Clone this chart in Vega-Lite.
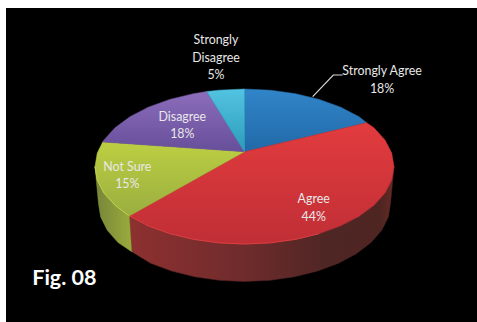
{
  "$schema": "https://vega.github.io/schema/vega-lite/v6.json",
  "width": 471,
  "height": 314,
  "padding": {"left": 6, "top": 8, "right": 0, "bottom": 0},
  "autosize": "none",
  "background": "#ffffff",
  "view": {"fill": "#000000", "stroke": null},
  "projection": {"type": "identity", "reflectY": true, "scale": 1.495, "translate": [238.5, 158.5]},
  "datasets": {
    "slices": [
      {"answer": "Strongly Agree", "share": 18, "labelLon": 92, "labelLat": 63.9,
       "outline": {"type": "Polygon", "coordinates": [[[0,9.9],[0,51.84],[17.4,51.05],[34.2,48.71],[50,44.89],[64.3,39.71],[76.6,33.32],[81.7,29.28],[0,9.9]]]}},
      {"answer": "Agree", "share": 44, "labelLon": 46.3, "labelLat": -22,
       "outline": {"type": "Polygon", "coordinates": [[[0,9.9],[81.7,29.28],[86.6,25.92],[94,17.73],[98.5,9],[100,0],[98.5,-9],[94,-17.73],[86.6,-25.92],[76.6,-33.32],[64.3,-39.71],[50,-44.89],[34.2,-48.71],[17.4,-51.05],[0,-51.84],[-17.4,-51.05],[-34.2,-48.71],[-50,-44.89],[-64.3,-39.71],[-77.05,-33.05],[0,9.9]]]}},
      {"answer": "Not Sure", "share": 15, "labelLon": -78.4, "labelLat": -0.13,
       "outline": {"type": "Polygon", "coordinates": [[[0,9.9],[-77.05,-33.05],[-86.6,-25.92],[-94,-17.73],[-98.5,-9],[-100,0],[-98.5,9],[-94.85,16.4],[0,9.9]]]}},
      {"answer": "Disagree", "share": 18, "labelLon": -41.6, "labelLat": 33.3,
       "outline": {"type": "Polygon", "coordinates": [[[0,9.9],[-94.85,16.4],[-94,17.73],[-86.6,25.92],[-76.6,33.32],[-64.3,39.71],[-50,44.89],[-34.2,48.71],[-25.3,50.15],[0,9.9]]]}},
      {"answer": "Strongly Disagree", "share": 5, "labelLon": -19.1, "labelLat": 84.6,
       "outline": {"type": "Polygon", "coordinates": [[[0,9.9],[-25.3,50.15],[-17.4,51.05],[0,51.84],[0,9.9]]]}}
    ],
    "sides": [
      {"answer": "Agree",
       "wall": {"type": "Polygon", "coordinates": [[[-77.05,-33.05],[-64.3,-39.71],[-50,-44.89],[-34.2,-48.71],[-17.4,-51.05],[0,-51.84],[17.4,-51.05],[34.2,-48.71],[50,-44.89],[64.3,-39.71],[76.6,-33.32],[86.6,-25.92],[94,-17.73],[98.5,-9],[100,0],[97.66,-24.75],[96.2,-33.81],[91.8,-42.59],[84.6,-50.84],[74.8,-58.28],[62.8,-64.71],[48.8,-69.93],[33.4,-73.77],[17,-76.13],[0,-76.92],[-17,-76.13],[-33.4,-73.77],[-48.8,-69.93],[-62.8,-64.71],[-75.45,-57],[-77.05,-33.05]]]},
       "rim": {"type": "LineString", "coordinates": [[-77.05,-33.05],[-64.3,-39.71],[-50,-44.89],[-34.2,-48.71],[-17.4,-51.05],[0,-51.84],[17.4,-51.05],[34.2,-48.71],[50,-44.89]]}},
      {"answer": "Not Sure",
       "wall": {"type": "Polygon", "coordinates": [[[-100,0],[-98.5,-9],[-94,-17.73],[-86.6,-25.92],[-77.05,-33.05],[-75.45,-57],[-84.6,-50.84],[-91.8,-42.59],[-96.2,-33.81],[-97.66,-24.75],[-100,0]]]},
       "rim": {"type": "LineString", "coordinates": [[-100,0],[-98.5,-9],[-94,-17.73],[-86.6,-25.92],[-77.05,-33.05]]}}
    ],
    "leader": [
      {"path": {"type": "LineString", "coordinates": [[45.6,46.7],[59.4,61.2],[65.7,61.2]]}}
    ],
    "caption": [
      {"text": "Fig. 08", "lon": -120.5, "lat": -75.5}
    ]
  },
  "layer": [
    {
      "data": {"name": "sides"},
      "transform": [{"filter": "datum.answer === 'Agree'"}],
      "mark": {"type": "geoshape", "strokeWidth": 0.5, "stroke": "#5a2626",
        "fill": {"gradient": "linear", "x1": 0, "y1": 0, "x2": 1, "y2": 0, "stops": [
          {"offset": 0, "color": "#8e3030"},
          {"offset": 0.45, "color": "#6e2b2c"},
          {"offset": 0.75, "color": "#4e2624"},
          {"offset": 0.95, "color": "#4f2522"},
          {"offset": 1, "color": "#682a26"}
        ]}},
      "encoding": {"shape": {"field": "wall", "type": "geojson"}}
    },
    {
      "data": {"name": "sides"},
      "transform": [{"filter": "datum.answer === 'Not Sure'"}],
      "mark": {"type": "geoshape", "strokeWidth": 0.5, "stroke": "#8a9a38",
        "fill": {"gradient": "linear", "x1": 0, "y1": 0, "x2": 1, "y2": 0, "stops": [
          {"offset": 0, "color": "#75853a"},
          {"offset": 1, "color": "#9bab3c"}
        ]}},
      "encoding": {"shape": {"field": "wall", "type": "geojson"}}
    },
    {
      "data": {"name": "slices"},
      "transform": [{"filter": "datum.answer === 'Strongly Agree'"}],
      "mark": {"type": "geoshape", "strokeWidth": 0.5, "stroke": "#2a78b8",
        "fill": {"gradient": "linear", "x1": 0, "y1": 0, "x2": 0, "y2": 1, "stops": [{"offset": 0, "color": "#3085c8"}, {"offset": 1, "color": "#2169a8"}]}},
      "encoding": {"shape": {"field": "outline", "type": "geojson"}}
    },
    {
      "data": {"name": "slices"},
      "transform": [{"filter": "datum.answer === 'Agree'"}],
      "mark": {"type": "geoshape", "strokeWidth": 0.5, "stroke": "#d03438",
        "fill": {"gradient": "linear", "x1": 0, "y1": 0, "x2": 0, "y2": 1, "stops": [{"offset": 0, "color": "#e23c3e"}, {"offset": 1, "color": "#c02e36"}]}},
      "encoding": {"shape": {"field": "outline", "type": "geojson"}}
    },
    {
      "data": {"name": "slices"},
      "transform": [{"filter": "datum.answer === 'Not Sure'"}],
      "mark": {"type": "geoshape", "strokeWidth": 0.5, "stroke": "#acbf42",
        "fill": {"gradient": "linear", "x1": 0, "y1": 0, "x2": 0, "y2": 1, "stops": [{"offset": 0, "color": "#bccf42"}, {"offset": 1, "color": "#9aae40"}]}},
      "encoding": {"shape": {"field": "outline", "type": "geojson"}}
    },
    {
      "data": {"name": "slices"},
      "transform": [{"filter": "datum.answer === 'Disagree'"}],
      "mark": {"type": "geoshape", "strokeWidth": 0.5, "stroke": "#7a5eaa",
        "fill": {"gradient": "linear", "x1": 0, "y1": 0, "x2": 0, "y2": 1, "stops": [{"offset": 0, "color": "#8c6dbb"}, {"offset": 1, "color": "#674f9a"}]}},
      "encoding": {"shape": {"field": "outline", "type": "geojson"}}
    },
    {
      "data": {"name": "slices"},
      "transform": [{"filter": "datum.answer === 'Strongly Disagree'"}],
      "mark": {"type": "geoshape", "strokeWidth": 0.5, "stroke": "#3eaecc",
        "fill": {"gradient": "linear", "x1": 0, "y1": 0, "x2": 0, "y2": 1, "stops": [{"offset": 0, "color": "#52c3e0"}, {"offset": 1, "color": "#2c9cbc"}]}},
      "encoding": {"shape": {"field": "outline", "type": "geojson"}}
    },
    {
      "data": {"name": "sides"},
      "transform": [{"filter": "datum.answer === 'Agree'"}],
      "mark": {"type": "geoshape", "filled": false, "stroke": "#dc4040", "strokeWidth": 1},
      "encoding": {"shape": {"field": "rim", "type": "geojson"}}
    },
    {
      "data": {"name": "sides"},
      "transform": [{"filter": "datum.answer === 'Not Sure'"}],
      "mark": {"type": "geoshape", "filled": false, "stroke": "#c2d24a", "strokeWidth": 1},
      "encoding": {"shape": {"field": "rim", "type": "geojson"}}
    },
    {
      "data": {"name": "leader"},
      "mark": {"type": "geoshape", "filled": false, "stroke": "#d8d8d8", "strokeWidth": 1.2},
      "encoding": {"shape": {"field": "path", "type": "geojson"}}
    },
    {
      "data": {"name": "slices"},
      "transform": [
        {"calculate": "replace(datum.answer, 'Strongly Disagree', 'Strongly|Disagree') + '|' + datum.share + '%'", "as": "label"}
      ],
      "mark": {"type": "text", "font": "Lato", "fontSize": 12.4, "lineHeight": 17.7, "lineBreak": "|", "align": "center", "baseline": "middle", "color": "#e8e8e8"},
      "encoding": {
        "longitude": {"field": "labelLon", "type": "quantitative"},
        "latitude": {"field": "labelLat", "type": "quantitative"},
        "text": {"field": "label"}
      }
    },
    {
      "data": {"name": "caption"},
      "mark": {"type": "text", "font": "Lato", "fontWeight": "bold", "fontSize": 21.5, "align": "center", "baseline": "middle", "color": "#ffffff"},
      "encoding": {
        "longitude": {"field": "lon", "type": "quantitative"},
        "latitude": {"field": "lat", "type": "quantitative"},
        "text": {"field": "text"}
      }
    }
  ]
}
